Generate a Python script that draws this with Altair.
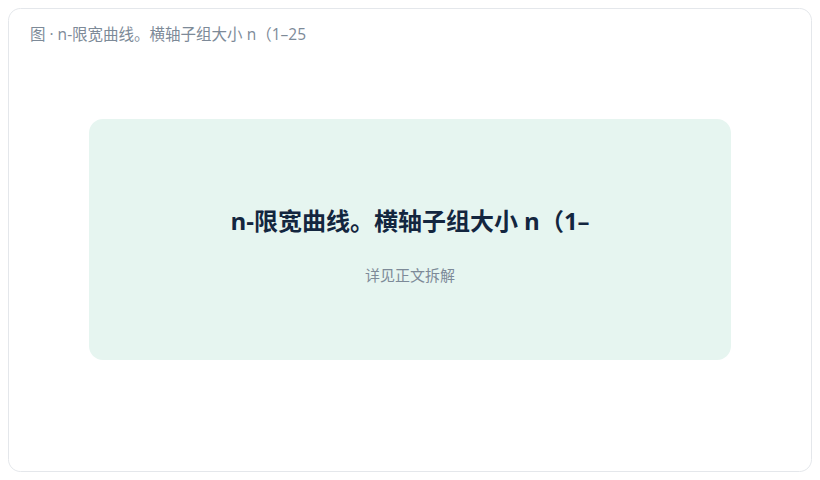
import altair as alt
import pandas as pd

# Text content of the card (no numeric series in this placeholder figure)
captions = ["图 · n-限宽曲线。横轴子组大小 n（1–25"]
titles = ["n-限宽曲线。横轴子组大小 n（1–"]
subtitles = ["详见正文拆解"]

W, H = 804, 464
FONT = "Open Sans, Noto Sans CJK SC"

df = pd.DataFrame({"caption": captions, "title": titles, "subtitle": subtitles})
base = alt.Chart(df)

outer = base.mark_rect(
    fill="#ffffff", stroke="#e4e7eb", strokeWidth=1, cornerRadius=12
).encode(x=alt.value(0.5), x2=alt.value(W - 0.5), y=alt.value(0.5), y2=alt.value(H - 0.5))

card = base.mark_rect(fill="#e6f5f0", cornerRadius=14).encode(
    x=alt.value(81), x2=alt.value(723), y=alt.value(111), y2=alt.value(352)
)

cap = base.mark_text(
    align="left", baseline="middle", font=FONT, fontSize=15.5, color="#7d8a98"
).encode(x=alt.value(22), y=alt.value(27), text="caption:N")

ttl = base.mark_text(
    align="center", baseline="middle", font=FONT, fontSize=24, fontWeight="bold", color="#13263f"
).encode(x=alt.value(402), y=alt.value(215), text="title:N")

sub = base.mark_text(
    align="center", baseline="middle", font=FONT, fontSize=15, color="#7d8a98"
).encode(x=alt.value(402), y=alt.value(268), text="subtitle:N")

chart = (
    alt.layer(outer, card, cap, ttl, sub)
    .properties(width=W, height=H, autosize="none", padding=0, background="#ffffff")
    .configure_view(stroke=None)
)

chart.save("out.html", embed_options={"renderer": "svg", "actions": False})
